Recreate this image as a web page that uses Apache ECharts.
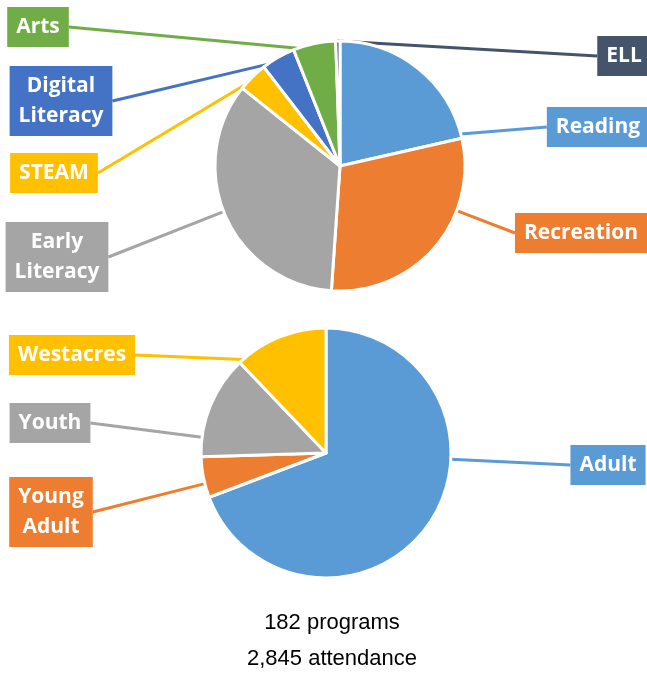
<!DOCTYPE html>
<html>
<head>
<meta charset="utf-8">
<script src="https://cdn.jsdelivr.net/npm/echarts@6/dist/echarts.min.js"></script>
<style>
	html, body { margin: 0; padding: 0; background: #fff; }
	#main { width: 647px; height: 673px; }
</style>
</head>
<body>
<div id="main"></div>
<script>
	// programs by type (top pie)
	var topNames = ['Reading', 'Recreation', 'Early Literacy', 'STEAM', 'Digital Literacy', 'Arts', 'ELL'];
	var topValues = [39, 54, 63, 7, 8, 10, 1];
	var topColors = ['#5B9BD5', '#ED7D31', '#A5A5A5', '#FFC000', '#4472C4', '#70AD47', '#44546A'];

	// attendance by audience (bottom pie)
	var bottomNames = ['Adult', 'Young Adult', 'Youth', 'Westacres'];
	var bottomValues = [1970, 150, 380, 345];
	var bottomColors = ['#5B9BD5', '#ED7D31', '#A5A5A5', '#FFC000'];

	var totalPrograms = '182 programs';
	var totalAttendance = '2,845 attendance';

	// label box centres, same order as the names
	var topLabelPos = [[598, 127], [581, 233], [57, 257], [54, 173], [61, 101], [38, 27], [624, 56]];
	var bottomLabelPos = [[608, 465], [51, 512], [50, 423], [72, 355]];

	var RADIUS = 125;

	function buildData(names, values, colors) {
		return names.map(function(name, i) {
			return {
				name: name,
				value: values[i],
				itemStyle: { color: colors[i] },
				label: { backgroundColor: colors[i] }
			};
		});
	}

	// start/end angle of each slice, degrees clockwise from 12 o'clock
	function sliceAngles(values) {
		var sum = 0, acc = 0;
		values.forEach(function(v) { sum += v; });
		return values.map(function(v) {
			var a0 = acc / sum * 360;
			acc += v;
			return [a0, acc / sum * 360];
		});
	}

	function pieSeries(names, values, colors, center, labelPos) {
		var angles = sliceAngles(values);
		return {
			type: 'pie',
			center: center,
			radius: RADIUS,
			startAngle: 90,
			clockwise: true,
			avoidLabelOverlap: false,
			animation: false,
			emphasis: { disabled: true },
			itemStyle: { borderColor: '#fff', borderWidth: 3 },
			label: {
				show: true,
				position: 'outer',
				alignTo: 'none',
				formatter: function(p) { return p.name.replace(' ', '\n'); },
				color: '#fff',
				fontFamily: 'Open Sans',
				fontWeight: 'bold',
				fontSize: 21,
				lineHeight: 30,
				padding: [5, 9],
				align: 'center'
			},
			labelLine: { show: true, length: 10, length2: 0, lineStyle: { width: 3 } },
			labelLayout: function(params) {
				var i = params.dataIndex;
				var pos = labelPos[i];
				var w = params.labelRect.width;
				var isLeft = pos[0] < center[0];
				var end = [isLeft ? pos[0] + w / 2 : pos[0] - w / 2, pos[1]];
				// point on the slice rim facing the label
				var dir = Math.atan2(end[0] - center[0], center[1] - end[1]) * 180 / Math.PI;
				if (dir < 0) dir += 360;
				var a = angles[i];
				var inset = Math.min(2, (a[1] - a[0]) / 3);
				var ang = Math.max(a[0] + inset, Math.min(a[1] - inset, dir));
				var rad = ang * Math.PI / 180;
				var start = [center[0] + RADIUS * Math.sin(rad), center[1] - RADIUS * Math.cos(rad)];
				return {
					x: pos[0], y: pos[1], align: 'center', verticalAlign: 'middle',
					labelLinePoints: [start, start, end]
				};
			},
			data: buildData(names, values, colors)
		};
	}

	var myChart = echarts.init(document.getElementById('main'));
	myChart.setOption({
		backgroundColor: '#fff',
		series: [
			pieSeries(topNames, topValues, topColors, [340, 166], topLabelPos),
			pieSeries(bottomNames, bottomValues, bottomColors, [326, 453], bottomLabelPos)
		],
		graphic: [
			{
				type: 'text', x: 332, y: 623,
				style: { text: totalPrograms, textAlign: 'center', textVerticalAlign: 'middle', font: '22px "Liberation Sans"', fill: '#000' }
			},
			{
				type: 'text', x: 332, y: 659,
				style: { text: totalAttendance, textAlign: 'center', textVerticalAlign: 'middle', font: '22px "Liberation Sans"', fill: '#000' }
			}
		]
	});
</script>
</body>
</html>
